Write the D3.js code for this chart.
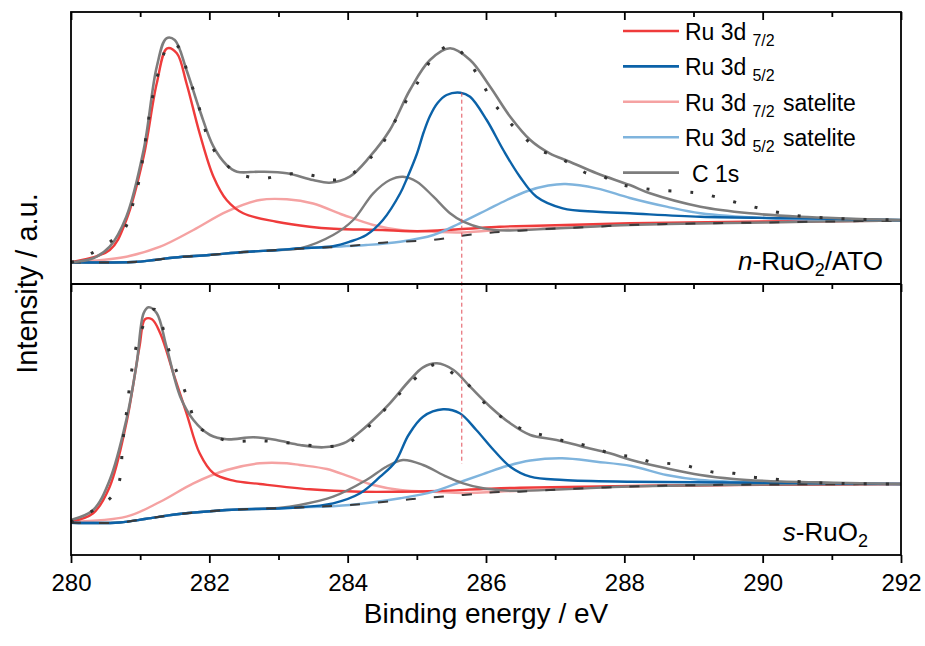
<!DOCTYPE html>
<html>
<head>
<meta charset="utf-8">
<script src="https://cdn.jsdelivr.net/npm/d3@7"></script>
<style>
body { margin: 0; background: #fff; }
svg text { font-family: Arial, "Liberation Sans", sans-serif; fill: #000; }
</style>
</head>
<body>
<div id="chart"></div>
<script>
// x axis
var majorTicks = [280, 282, 284, 286, 288, 290, 292];
var minorTicks = [281, 283, 285, 287, 289, 291];
var refEnergy = 285.65;

var seriesNames = ["Ru 3d 7/2", "Ru 3d 5/2", "Ru 3d 7/2 satelite", "Ru 3d 5/2 satelite", "C 1s"];
var sampleNames = ["n-RuO2/ATO", "s-RuO2"];

// ---- n-RuO2/ATO (top panel), [binding energy, intensity a.u.] ----
var obsA = [[280, 21.7], [280.13, 24.7], [280.76, 54], [280.91, 84], [280.98, 102.3], [281.1, 154], [281.18, 187.3],
    [281.43, 240.7], [281.55, 237.3], [281.7, 207.3], [281.82, 184], [282.01, 140.7], [282.18, 124], [282.4, 110.7],
    [282.56, 107.3], [282.8, 105.7], [283.05, 109], [283.31, 110.7], [283.53, 108], [283.79, 104], [284.0, 107.3],
    [284.37, 129], [284.52, 142.3], [284.64, 157.3], [284.76, 172.3], [284.88, 187.3], [285.02, 202.3], [285.14, 217.3],
    [285.29, 230.7], [285.5, 239], [285.7, 227.3], [285.96, 199], [286.08, 184], [286.25, 169], [286.59, 144],
    [286.78, 134], [287.02, 127.3], [287.21, 120.7], [287.46, 110.7], [287.65, 109], [287.89, 100.7], [288.37, 94.7],
    [288.85, 92.3], [289.1, 90.7], [289.58, 82.3], [290.06, 74], [290.54, 68], [291.02, 65.7], [291.5, 64.5], [292, 64]];
var fitA = [[280, 21.7], [280.32, 25.7], [280.56, 37.3], [280.8, 67.3], [281.05, 134], [281.24, 217.3], [281.38, 245.7],
    [281.5, 244], [281.67, 214], [281.86, 174], [282.06, 137.3], [282.25, 119], [282.4, 112.3], [282.73, 112.3],
    [283.12, 110.7], [283.5, 104], [283.74, 101.3], [284.03, 107.3], [284.32, 127.3], [284.61, 154], [284.9, 194],
    [285.19, 224], [285.48, 235.7], [285.77, 224], [286.06, 197.3], [286.35, 167.3], [286.64, 144], [286.92, 130.7],
    [287.21, 122.3], [287.6, 110.7], [288.08, 99], [288.37, 90.7], [289.1, 77.3], [289.82, 70.7], [290.54, 67.3], [292, 64]];
var bgA = [[280, 21.7], [280.9, 22], [281.2, 24], [281.5, 26.5], [282, 29], [282.5, 32], [283, 34], [283.4, 35.7],
    [283.9, 37.3], [284.51, 41.3], [285.23, 44], [285.62, 48], [286.06, 51.3], [286.49, 53.3], [287, 55.5],
    [287.5, 57], [288.08, 59], [289, 60.5], [290, 61.5], [291, 62.5], [292, 63.5]];
var r72A = [[280, 21.7], [280.56, 34], [280.8, 64], [281.05, 127.3], [281.24, 200.7], [281.39, 235.7], [281.53, 230.7],
    [281.67, 200.7], [281.86, 150.7], [282.06, 107.3], [282.25, 84], [282.49, 70.7], [282.97, 62.3], [283.45, 57.3],
    [283.8, 55.3], [284.5, 54], [284.9, 52.8], [285.6, 54.7], [286.2, 57.3], [286.6, 58], [288.08, 60.7], [290, 62.5], [292, 63.5]];
var r52A = [[280, 21.7], [280.9, 22], [281.2, 24], [281.5, 26.5], [282, 29], [282.5, 32], [283, 34], [283.31, 35.7],
    [283.79, 37.8], [284.03, 42.3], [284.27, 49], [284.51, 64], [284.76, 90.7], [284.86, 106], [285.0, 130],
    [285.1, 152], [285.19, 168], [285.3, 181], [285.43, 189], [285.63, 191.3], [285.77, 187.3], [286.01, 164],
    [286.25, 134], [286.49, 107.3], [286.73, 87.3], [287.11, 75.7], [287.6, 72.3], [288.08, 70.7], [289.1, 67.3],
    [290.54, 65.7], [292, 64]];
var s72A = [[280, 21.7], [280.8, 27.3], [281.29, 37.3], [281.77, 54], [282.25, 72.3], [282.73, 84], [283.12, 84.7],
    [283.5, 80.5], [283.94, 69], [284.37, 59], [284.76, 54], [285.24, 52.3], [285.6, 51.5],
    [286.2, 54], [287, 56], [288.08, 59.3], [290, 61.6], [292, 63.5]];
var s52A = [[280, 21.7], [280.9, 22], [281.2, 24], [281.5, 26.5], [282, 29], [282.5, 32], [283, 34], [283.31, 35.7],
    [284.27, 39], [284.76, 42.3], [285.24, 49], [285.62, 60.7], [286.01, 74], [286.3, 84], [286.6, 93],
    [286.9, 98.5], [287.15, 100], [287.6, 95.7], [288.08, 86], [288.61, 77.3], [289.1, 70.7], [290.06, 65.7], [292, 63.3]];
var c1sA = [[280, 21.7], [280.9, 22], [281.2, 24], [281.5, 26.5], [282, 29], [282.5, 32], [283, 34], [283.31, 35.7],
    [283.79, 49], [284.08, 64], [284.37, 90.7], [284.61, 104], [284.8, 107.3], [285.0, 102.3], [285.24, 87.3],
    [285.48, 70.7], [285.67, 62.3], [285.96, 55.7], [286.3, 53.5], [287, 55.5], [288.08, 59], [290, 61.5], [292, 63.5]];

// ---- s-RuO2 (bottom panel) ----
var obsB = [[280, 33], [280.63, 62], [280.76, 120], [280.97, 215], [281.2, 245.7], [281.46, 195], [281.65, 163.3],
    [281.84, 128.3], [282.03, 121], [282.25, 114.3], [282.73, 114.3], [283.21, 111.7], [283.72, 108.3], [283.99, 111.7],
    [284.2, 121.7], [284.71, 158.3], [284.9, 171.7], [285.29, 191], [285.55, 180], [285.72, 171.7], [286.06, 146.7],
    [286.45, 128.3], [286.68, 122.3], [286.92, 118.3], [287.17, 113.3], [287.41, 110], [287.89, 100], [288.13, 98.3],
    [288.37, 93.3], [288.61, 91.7], [288.85, 90], [289.1, 85.7], [289.34, 82.3], [289.58, 81.7], [289.82, 78.3],
    [290.06, 76.7], [290.3, 75], [290.54, 73.3], [291.02, 71.7], [292, 71]];
var fitB = [[280, 35], [280.32, 45], [280.56, 75], [280.8, 135], [280.95, 191.7], [281.05, 241.7], [281.12, 247.7],
    [281.24, 241.7], [281.38, 208.3], [281.58, 158.3], [281.77, 135], [282.01, 120], [282.25, 115.7], [282.64, 117.7],
    [282.97, 115], [283.31, 110], [283.65, 107.7], [283.94, 111.7], [284.18, 123.3], [284.32, 131.7], [284.61, 151.7],
    [284.9, 175], [285.09, 187.7], [285.29, 191.7], [285.53, 185], [285.77, 168.3], [286.06, 148.3], [286.35, 131.7],
    [286.64, 120], [287.02, 115], [287.4, 108.3], [287.79, 101.7], [288.1, 95], [288.61, 86.7], [289.1, 80],
    [289.58, 76], [290.06, 74], [291.02, 72.3], [292, 71]];
var bgB = [[280, 32.3], [280.7, 32.5], [281.09, 36.2], [281.53, 40.7], [282.25, 45], [283.21, 47.3], [284.03, 50],
    [284.9, 55.7], [285.67, 60], [286.11, 62.7], [286.49, 63.3], [287.12, 65.7], [288.08, 68.5], [289, 69.8],
    [290, 70.5], [291, 70.8], [292, 71]];
var r72B = [[280, 33.3], [280.32, 41.7], [280.56, 68.3], [280.8, 131.7], [280.99, 208.3], [281.07, 235.7], [281.17, 235.7],
    [281.29, 221.7], [281.48, 181.7], [281.67, 141.7], [281.86, 101.7], [282.06, 81.7], [282.35, 74.3], [282.73, 71],
    [283.45, 65.7], [284.18, 63.3], [284.76, 63.3], [285.3, 64], [285.96, 66], [286.49, 67.3], [288.08, 69],
    [290, 70.2], [292, 71]];
var r52B = [[280, 32.3], [280.7, 32.5], [281.09, 36.2], [281.53, 40.7], [282.25, 45], [283.21, 47.3], [283.79, 51.7],
    [284.18, 61.7], [284.47, 78.3], [284.69, 93.3], [284.88, 120], [285.09, 138.3], [285.38, 145.7], [285.62, 141.7],
    [285.86, 125], [286.11, 105], [286.35, 88.3], [286.64, 78.3], [287.12, 75], [288.08, 73.3], [289.5, 72.5], [292, 71]];
var s72B = [[280, 33.3], [280.8, 38.3], [281.29, 53.3], [281.77, 71.7], [282.25, 85], [282.73, 91.7], [283.12, 91.7],
    [283.31, 90], [283.7, 86], [284.03, 78.3], [284.37, 70], [284.76, 65], [285.3, 63], [285.67, 62], [286.5, 64.3],
    [288.08, 68.6], [290, 70.5], [292, 71]];
var s52B = [[280, 32.3], [280.7, 32.5], [281.09, 36.2], [281.53, 40.7], [282.25, 45], [283.21, 47.3], [284.03, 50],
    [284.76, 56.7], [285.24, 63.3], [285.67, 74], [286.0, 82], [286.3, 89], [286.64, 94.5], [287.1, 96.7],
    [287.6, 93.3], [288.1, 89], [288.61, 80], [289.1, 75], [290.06, 72.3], [292, 71]];
var c1sB = [[280, 32.3], [280.7, 32.5], [281.09, 36.2], [281.53, 40.7], [282.25, 45], [283.0, 47], [283.31, 50],
    [283.79, 58.3], [284.27, 75], [284.56, 88.3], [284.8, 95], [285.09, 90], [285.43, 78.3], [285.67, 71.7],
    [285.96, 66.7], [286.35, 64.3], [287.12, 65.7], [288.08, 68.5], [290, 70.5], [292, 71]];

var width = 925, height = 646;
var left = 71, right = 901;
var colors = ["#ef3b3b", "#0b62a8", "#f5a2a2", "#7fb4dd", "#7d7d7d"];

var svg = d3.select("#chart").append("svg")
    .attr("width", width)
    .attr("height", height);

var x = d3.scaleLinear().domain([280, 292]).range([left, right]);

var panels = [
    { top: 12, bottom: 284, obs: obsA, fit: fitA, bg: bgA, comps: [r72A, r52A, s72A, s52A, c1sA], name: sampleNames[0] },
    { top: 284, bottom: 555, obs: obsB, fit: fitB, bg: bgB, comps: [r72B, r52B, s72B, s52B, c1sB], name: sampleNames[1] }
];

// draw order: satellites under, main peaks over
var drawOrder = [2, 0, 3, 4, 1];

panels.forEach(function (p, pi) {
    var y = d3.scaleLinear().domain([0, p.bottom - p.top]).range([p.bottom, p.top]);
    p.y = y;
    var line = d3.line()
        .x(function (d) { return x(d[0]); })
        .y(function (d) { return y(d[1]); })
        .curve(d3.curveCatmullRom.alpha(0.5));

    var g = svg.append("g").attr("class", "panel" + pi);

    drawOrder.forEach(function (k) {
        g.append("path")
            .attr("d", line(p.comps[k]))
            .attr("fill", "none")
            .attr("stroke", colors[k])
            .attr("stroke-width", 2.4);
    });

    //background
    g.append("path")
        .attr("d", line(p.bg))
        .attr("fill", "none")
        .attr("stroke", "#3a3a3a")
        .attr("stroke-width", 2)
        .attr("stroke-dasharray", "10,18");

    //envelope
    g.append("path")
        .attr("d", line(p.fit))
        .attr("fill", "none")
        .attr("stroke", colors[4])
        .attr("stroke-width", 2.6);

    //measured data, dotted
    g.append("path")
        .attr("d", line(p.obs))
        .attr("fill", "none")
        .attr("stroke", "#333")
        .attr("stroke-width", 3)
        .attr("stroke-dasharray", "3,19");

    //sample label
    var parts = p.name.split("-");
    var lab = g.append("text")
        .attr("x", pi == 0 ? 883 : 868)
        .attr("y", p.bottom - 14)
        .attr("text-anchor", "end")
        .style("font-size", "26px");
    lab.append("tspan").style("font-style", "italic").text(parts[0]);
    var rest = parts[1].split("2");
    lab.append("tspan").text("-" + rest[0]);
    lab.append("tspan").attr("dy", 6).style("font-size", "18px").text("2");
    if (rest[1]) lab.append("tspan").attr("dy", -6).text(rest[1]);
});

// reference line through Ru 3d 5/2 maximum
var yTop = panels[0].y, yBot = panels[1].y;
svg.append("line")
    .attr("x1", x(refEnergy)).attr("x2", x(refEnergy))
    .attr("y1", yTop(d3.max(r52A, function (d) { return d[1]; })))
    .attr("y2", yBot(91))
    .attr("stroke", "#e2505a")
    .attr("stroke-width", 1)
    .attr("stroke-dasharray", "4,3");

// frame
svg.append("rect")
    .attr("x", left).attr("y", 12)
    .attr("width", right - left).attr("height", 555 - 12)
    .attr("fill", "none").attr("stroke", "#000").attr("stroke-width", 1.8);
svg.append("line")
    .attr("x1", left).attr("x2", right).attr("y1", 284).attr("y2", 284)
    .attr("stroke", "#000").attr("stroke-width", 1.8);

// ticks: inner at top and at divider, outer at bottom with labels
[12, 284, 555].forEach(function (ty, i) {
    var major = svg.append("g")
        .attr("transform", "translate(0," + ty + ")")
        .call(d3.axisBottom(x).tickValues(majorTicks).tickSize(8).tickPadding(11)
            .tickFormat(i == 2 ? d3.format("d") : ""));
    var minor = svg.append("g")
        .attr("transform", "translate(0," + ty + ")")
        .call(d3.axisBottom(x).tickValues(minorTicks).tickSize(5).tickFormat(""));
    [major, minor].forEach(function (a) {
        a.select(".domain").remove();
        a.selectAll(".tick line").attr("stroke", "#000").attr("stroke-width", 1.8);
    });
    major.selectAll(".tick text")
        .style("font-size", "24px")
        .style("font-family", "Arial, 'Liberation Sans', sans-serif");
});

// axis titles
svg.append("text")
    .attr("x", x(286))
    .attr("y", 623)
    .attr("text-anchor", "middle")
    .style("font-size", "28px")
    .text("Binding energy / eV");

svg.append("text")
    .attr("transform", "translate(37," + ((12 + 555) / 2) + ") rotate(-90)")
    .attr("text-anchor", "middle")
    .style("font-size", "29px")
    .text("Intensity / a.u.");

// legend
var legend = svg.append("g").attr("class", "legend");
seriesNames.forEach(function (name, i) {
    var ly = 31 + i * 35.4;
    legend.append("line")
        .attr("x1", 623).attr("x2", 679)
        .attr("y1", ly).attr("y2", ly)
        .attr("stroke", colors[i])
        .attr("stroke-width", 2.6);
    var t = legend.append("text")
        .attr("x", i == 4 ? 692 : 685)
        .attr("y", ly + 9)
        .style("font-size", "23px");
    var m = name.match(/^(Ru 3d) (\d\/\d)(.*)$/);
    if (m) {
        t.append("tspan").text(m[1]);
        t.append("tspan").attr("dx", 6).attr("dy", 6).style("font-size", "16px").text(m[2]);
        if (m[3]) t.append("tspan").attr("dx", 2).attr("dy", -6).text(m[3]);
    } else {
        t.text(name);
    }
});
</script>
</body>
</html>
